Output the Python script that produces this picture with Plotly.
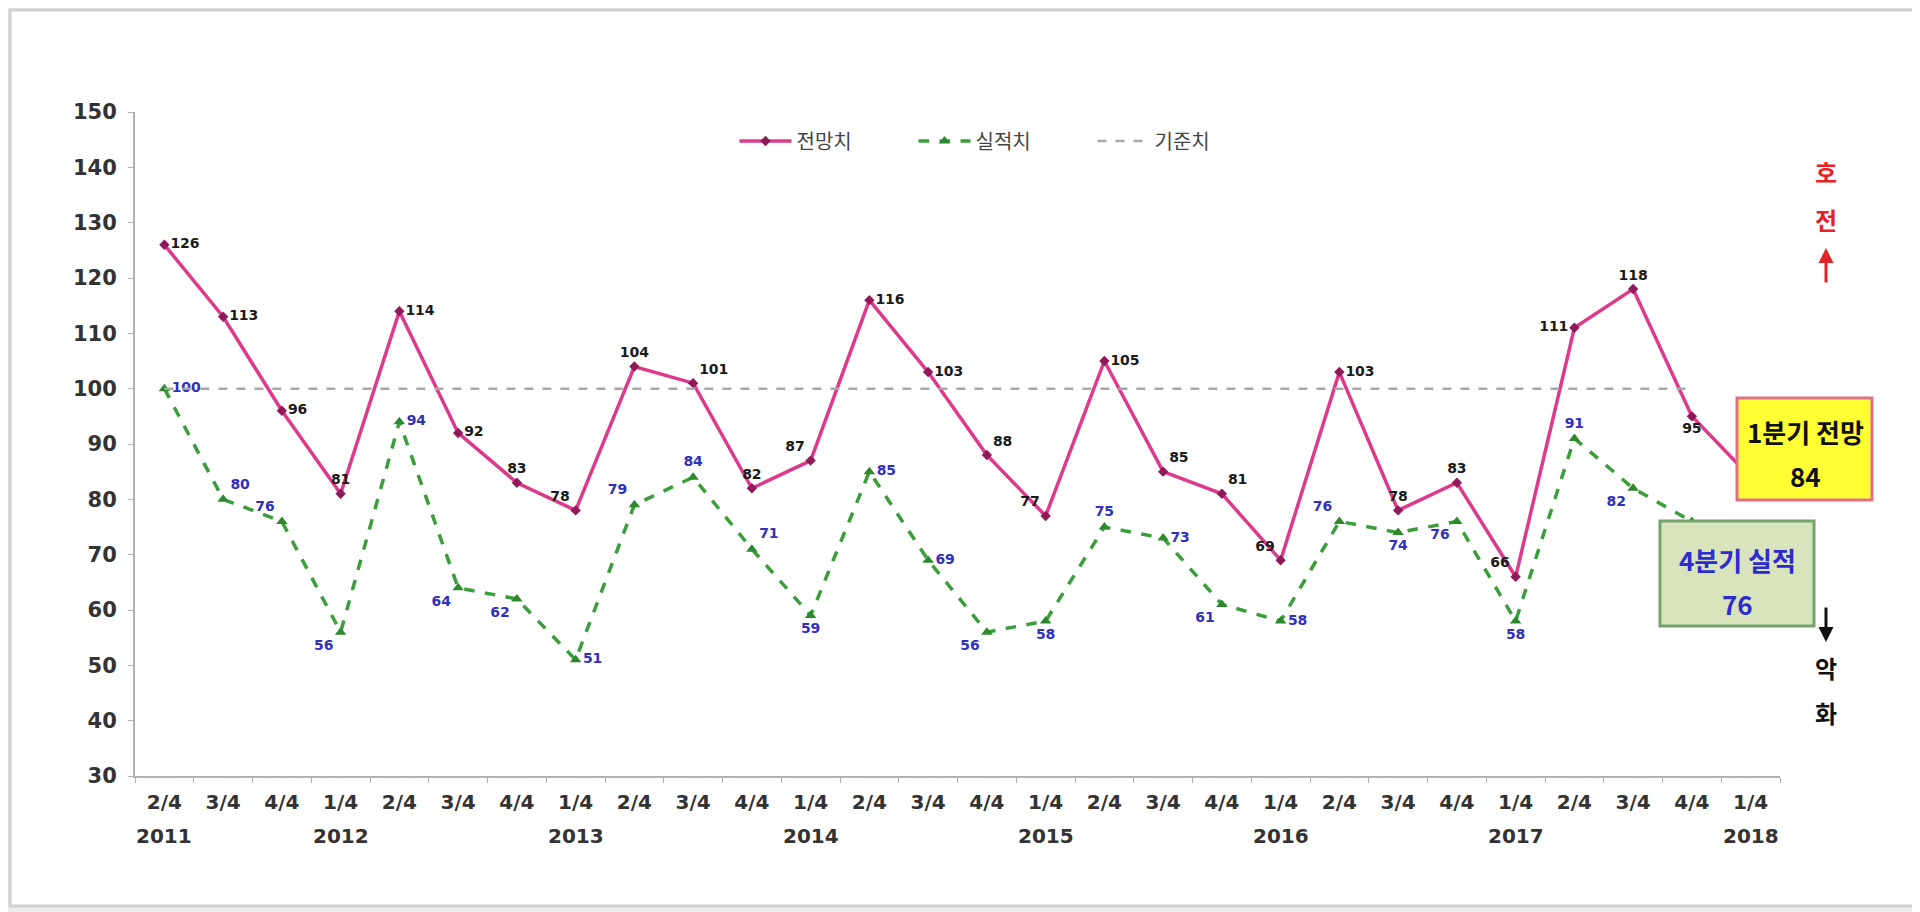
import plotly.graph_objects as go

# quarterly survey index (기준치 = 100)
quarters = ["2/4", "3/4", "4/4", "1/4", "2/4", "3/4", "4/4", "1/4", "2/4", "3/4",
            "4/4", "1/4", "2/4", "3/4", "4/4", "1/4", "2/4", "3/4", "4/4", "1/4",
            "2/4", "3/4", "4/4", "1/4", "2/4", "3/4", "4/4", "1/4"]
years = ["2011", "", "", "2012", "", "", "", "2013", "", "", "", "2014", "", "", "",
         "2015", "", "", "", "2016", "", "", "", "2017", "", "", "", "2018"]

forecast = [126, 113, 96, 81, 114, 92, 83, 78, 104, 101, 82, 87, 116, 103, 88,
            77, 105, 85, 81, 69, 103, 78, 83, 66, 111, 118, 95, 84]
actual = [100, 80, 76, 56, 94, 64, 62, 51, 79, 84, 71, 59, 85, 69, 56, 58, 75,
          73, 61, 58, 76, 74, 76, 58, 91, 82, 76, None]
baseline = 100
baseline_end = 26  # 4/4 2017

# label placement (style only)
fc_pos = ["middle right", "middle right", "middle right", "top center", "middle right",
          "middle right", "top center", "top left", "top center", "top right",
          "top center", "top left", "middle right", "middle right", "top right",
          "top left", "middle right", "top right", "top right", "top left",
          "middle right", "top center", "top center", "top left", "middle left",
          "top center", "bottom center", "middle right"]
ac_pos = ["middle right", "top right", "top left", "bottom left", "middle right",
          "bottom left", "bottom left", "middle right", "top left", "top center",
          "top right", "bottom center", "middle right", "middle right", "bottom left",
          "bottom center", "top center", "middle right", "bottom left", "middle right",
          "top left", "bottom center", "bottom left", "bottom center", "top center",
          "bottom left", "middle right", "middle right"]

W, H = 1920, 912
L, R, T, B = 127, 148, 104, 144
NUM = "DejaVu Sans"
KR = "Noto Sans CJK KR"


def px(x):
    return (x - L) / (W - L - R)


def py(y):
    return (H - B - y) / (H - T - B)


x = list(range(len(quarters)))

fig = go.Figure()

fig.add_trace(go.Scatter(
    x=x, y=forecast, name="전망치", mode="lines+markers+text",
    line=dict(color="#de3a8c", width=3.5),
    marker=dict(symbol="diamond", size=8, color="#8e1a5a"),
    text=[str(v) for v in forecast[:-1]] + [""], textposition=fc_pos,
    textfont=dict(family=NUM, size=14, color="#1a1a1a", weight="bold"),
))
fig.add_trace(go.Scatter(
    x=x, y=actual, name="실적치", mode="lines+markers+text",
    line=dict(color="#3a9e3a", width=3.5, dash="dash"),
    marker=dict(symbol="triangle-up", size=10, color="#2c8a2c"),
    text=[str(v) if v is not None else "" for v in actual[:-2]] + ["", ""],
    textposition=ac_pos,
    textfont=dict(family=NUM, size=14, color="#3030c0", weight="bold"),
))
fig.add_trace(go.Scatter(
    x=[x[0], x[baseline_end]], y=[baseline, baseline], name="기준치", mode="lines",
    line=dict(color="#a8a8a8", width=2.5, dash="dash"),
))

# year labels under the quarter ticks
for i, yr in enumerate(years):
    if yr:
        fig.add_annotation(x=i, xref="x", y=py(828), yref="paper", text=yr,
                           xanchor="center", yanchor="middle", showarrow=False,
                           font=dict(family=NUM, size=20, color="#333", weight="bold"))

# highlight boxes
fig.add_shape(type="rect", xref="paper", yref="paper",
              x0=px(1729), x1=px(1864), y0=py(492), y1=py(390),
              fillcolor="#ffff33", line=dict(color="#e0708a", width=3))
fig.add_shape(type="rect", xref="paper", yref="paper",
              x0=px(1652), x1=px(1806), y0=py(618), y1=py(513),
              fillcolor="#d8e4bc", line=dict(color="#74a26a", width=3))
box_text = [("1분기 전망", 1797, 423, "#111"), (str(forecast[-1]), 1797, 468, "#111"),
            ("4분기 실적", 1729, 551, "#2b2bd0"), (str(actual[-2]), 1729, 595, "#2b2bd0")]
for t, bx, by, c in box_text:
    fig.add_annotation(x=px(bx), y=py(by), xref="paper", yref="paper", text=t,
                       xanchor="center", yanchor="middle", showarrow=False,
                       font=dict(family=KR, size=26, color=c, weight="bold"))

# 호전 / 악화 side labels
for t, by, c in [("호", 163, "#e5222a"), ("전", 211, "#e5222a"),
                 ("악", 659, "#111"), ("화", 704, "#111")]:
    fig.add_annotation(x=px(1818), y=py(by), xref="paper", yref="paper", text=t,
                       xanchor="center", yanchor="middle", showarrow=False,
                       font=dict(family=KR, size=24, color=c, weight="bold"))
fig.add_annotation(x=px(1818), y=py(240), xref="paper", yref="paper", text="",
                   showarrow=True, ax=0, ay=36, arrowhead=2, arrowsize=1,
                   arrowwidth=3, arrowcolor="#e5222a")
fig.add_annotation(x=px(1818), y=py(634), xref="paper", yref="paper", text="",
                   showarrow=True, ax=0, ay=-36, arrowhead=2, arrowsize=1,
                   arrowwidth=3, arrowcolor="#111")

# outer frame
fig.add_shape(type="rect", xref="paper", yref="paper", layer="below",
              x0=px(2), x1=px(1917), y0=py(898), y1=py(2),
              fillcolor="white", line=dict(color="#d0d0d0", width=3))

fig.update_layout(
    width=W, height=H,
    margin=dict(l=L, r=R, t=T, b=B),
    paper_bgcolor="#ececec", plot_bgcolor="rgba(0,0,0,0)",
    legend=dict(orientation="h", x=px(995), y=py(133), xanchor="center", yanchor="middle",
                font=dict(family=KR, size=20, color="#444"),
                itemwidth=52, entrywidth=112, bgcolor="rgba(0,0,0,0)"),
    showlegend=True,
)
fig.update_xaxes(
    range=[-0.5, len(quarters) - 0.5], tickmode="array", tickvals=x, ticktext=quarters,
    ticks="", ticklabelstandoff=7, showgrid=False, zeroline=False,
    showline=True, linecolor="#b0b0b0", linewidth=2,
    tickfont=dict(family=NUM, size=20, color="#333", weight="bold"),
    minor=dict(tickvals=[i - 0.5 for i in range(len(quarters) + 1)], ticks="outside",
               ticklen=5, tickcolor="#b0b0b0", showgrid=False),
)
fig.update_yaxes(
    range=[30, 150], dtick=10, ticks="outside", ticklen=5, tickcolor="#b0b0b0",
    showgrid=False, zeroline=False, showline=True, linecolor="#b0b0b0", linewidth=2,
    ticklabelstandoff=7,
    tickfont=dict(family=NUM, size=21, color="#333", weight="bold"),
)

fig.write_html("out.html")
